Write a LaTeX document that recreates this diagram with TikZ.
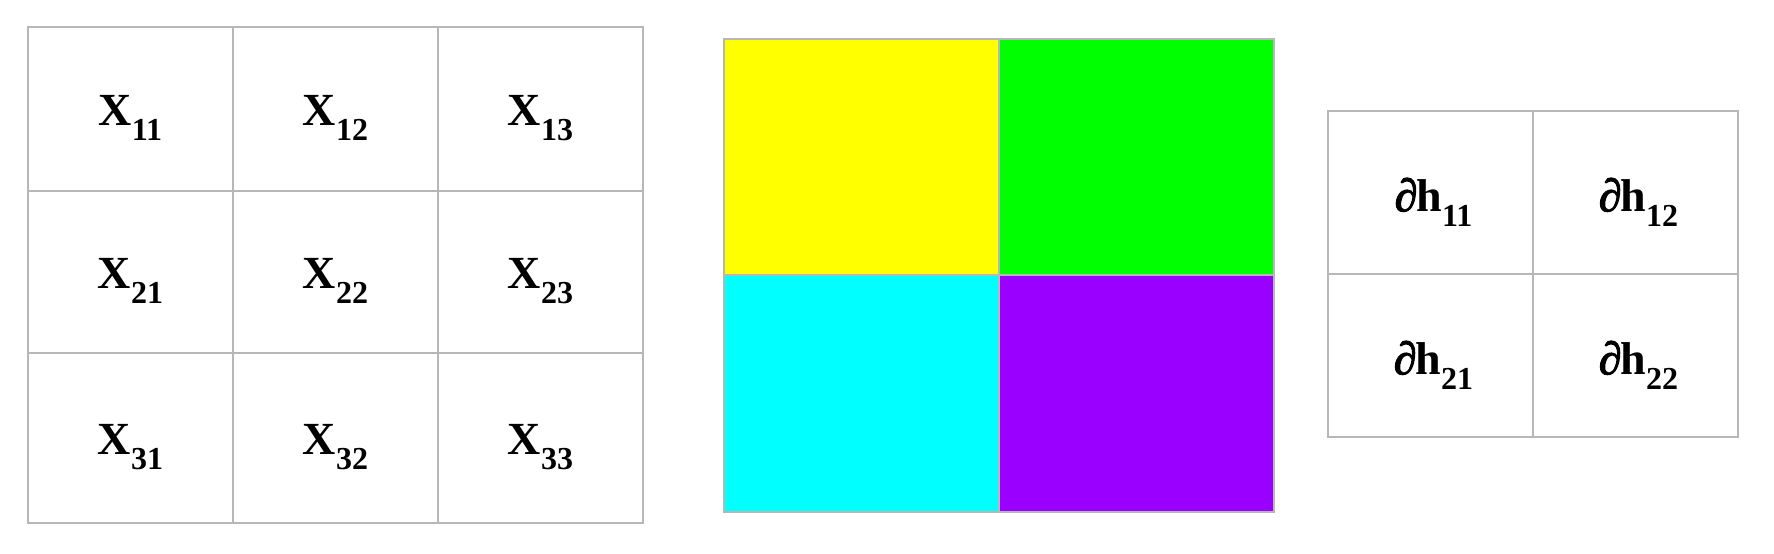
\documentclass[tikz,border=0pt]{standalone}
\usepackage{fontspec}
\setmainfont{Liberation Serif}
\newfontfamily\pfont[UprightFont=* Bold Italic, FakeBold=2.5]{Liberation Serif}
\definecolor{gridgray}{HTML}{B7B7B7}
\definecolor{cellyellow}{HTML}{FFFF00}
\definecolor{cellgreen}{HTML}{00FF00}
\definecolor{cellcyan}{HTML}{00FFFF}
\definecolor{cellpurple}{HTML}{9900FF}
\newcommand{\mylbl}[2]{\textbf{#1\raisebox{-7.5pt}{\fontsize{16}{16}\selectfont #2}}}
\newcommand{\mydh}[1]{{\pfont ∂}\kern-0.5pt\textbf{h\raisebox{-7.5pt}{\fontsize{16}{16}\selectfont #1}}}
\begin{document}
\begin{tikzpicture}[x=0.5pt,y=-0.5pt,
  cellbox/.style={draw=gridgray,line width=1pt},
  celltxt/.style={inner sep=0pt,font=\fontsize{23}{28}\selectfont}]
\useasboundingbox[fill=white] (0,0) rectangle (1774,553);
% left 3x3 grid
\foreach \r/\ya/\yb in {1/27/191,2/191/353,3/353/523}{
  \foreach \c/\xa/\xb in {1/28/233,2/233/438,3/438/643}{
    \path[cellbox] (\xa,\ya) rectangle (\xb,\yb) coordinate (x\r\c-br);
    \node[celltxt] (x\r\c) at ({(\xa+\xb)/2},{(\ya+\yb)/2+9}) {\mylbl{X}{\r\c}};
  }
}
% middle coloured 2x2 grid
\path[cellbox,fill=cellyellow] (724,39) rectangle (999,275) coordinate (c11);
\path[cellbox,fill=cellgreen] (999,39) rectangle (1274,275) coordinate (c12);
\path[cellbox,fill=cellcyan] (724,275) rectangle (999,512) coordinate (c21);
\path[cellbox,fill=cellpurple] (999,275) rectangle (1274,512) coordinate (c22);
% right 2x2 grid
\foreach \r/\ya/\yb in {1/111/274,2/274/437}{
  \foreach \c/\xa/\xb in {1/1328/1533,2/1533/1738}{
    \path[cellbox] (\xa,\ya) rectangle (\xb,\yb) coordinate (h\r\c-br);
    \node[celltxt] (h\r\c) at ({(\xa+\xb)/2+3},{(\ya+\yb)/2+9.5}) {\mydh{\r\c}};
  }
}
\end{tikzpicture}
\end{document}
